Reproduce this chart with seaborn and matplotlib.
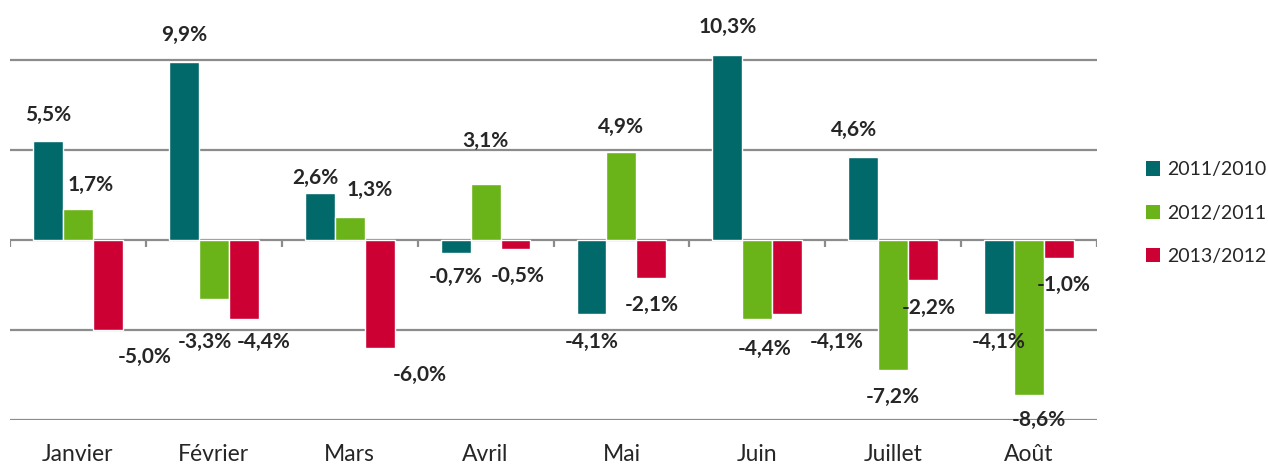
import numpy as np
import pandas as pd
import matplotlib
matplotlib.use("Agg")
import matplotlib.pyplot as plt
import seaborn as sns
from matplotlib.patches import Patch

# data
months = ["Janvier", "Février", "Mars", "Avril", "Mai", "Juin", "Juillet", "Août"]
series = ["2011/2010", "2012/2011", "2013/2012"]
v_2011 = [5.5, 9.9, 2.6, -0.7, -4.1, 10.3, 4.6, -4.1]
v_2012 = [1.7, -3.3, 1.3, 3.1, 4.9, -4.4, -7.2, -8.6]
v_2013 = [-5.0, -4.4, -6.0, -0.5, -2.1, -4.1, -2.2, -1.0]
colors = ["#02696a", "#6ab41a", "#cc0033"]

# label nudges (pixels) relative to the end of each bar, like the hand-moved labels in the original
dx = [[0, 0, -4, 0, 0, 0, -9, 0],
      [13, -9, 20, 0, 0, 7, 0, 10],
      [37, 20, 40, 2, 0, 49, 6, 5]]
dy = [[-26, -27, -15, 24, 28, -28, -27, 28],
      [-24, 43, -27, -43, -25, 30, 27, 25],
      [27, 23, 27, 27, 27, 28, 28, 27]]

df = pd.DataFrame({
    "mois": months * 3,
    "serie": np.repeat(series, len(months)),
    "val": v_2011 + v_2012 + v_2013,
})

sns.set_style("white")
plt.rcParams["font.family"] = ["Lato", "DejaVu Sans"]

fig = plt.figure(figsize=(12.68, 4.67), dpi=100)
ax = fig.add_axes([10 / 1268, 47 / 467, 1087 / 1268, 405 / 467])

sns.barplot(data=df, x="mois", y="val", hue="serie", palette=colors,
            width=0.66, saturation=1, legend=False, ax=ax)

ax.set_ylim(-10, 12.5)
ax.set_xlim(-0.5, len(months) - 0.5)
ax.set_yticks([-10, -5, 0, 5, 10])
ax.set_yticklabels([])
ax.grid(axis="y", color="#8c8c8c", lw=1.6)
ax.grid(axis="x", visible=False)
for s in ax.spines.values():
    s.set_visible(False)
ax.tick_params(axis="x", length=0, labelsize=16.5, pad=17)
ax.tick_params(axis="y", length=0)
ax.set_xlabel("")
ax.set_ylabel("")
# category separator ticks on the zero line
ax.vlines(np.arange(len(months) + 1) - 0.5, -0.38, 0, color="#8c8c8c", lw=1.6)

vals = [v_2011, v_2012, v_2013]
for k, cont in enumerate(ax.containers):
    for i, bar in enumerate(cont):
        v = vals[k][i]
        xc = bar.get_x() + bar.get_width() / 2
        ax.annotate(f"{v:.1f}%".replace(".", ","), (xc, v),
                    xytext=(dx[k][i], -dy[k][i]), textcoords="offset pixels",
                    ha="center", va="center", fontsize=15, fontweight="bold",
                    annotation_clip=False)

handles = [Patch(facecolor=c, edgecolor="none") for c in colors]
fig.legend(handles, series, loc="center left", bbox_to_anchor=(1128 / 1268, 1 - 213 / 467),
           frameon=False, fontsize=14, handlelength=0.75, handleheight=0.75,
           handletextpad=0.35, labelspacing=1.35)

fig.savefig("out.png", dpi=100)
